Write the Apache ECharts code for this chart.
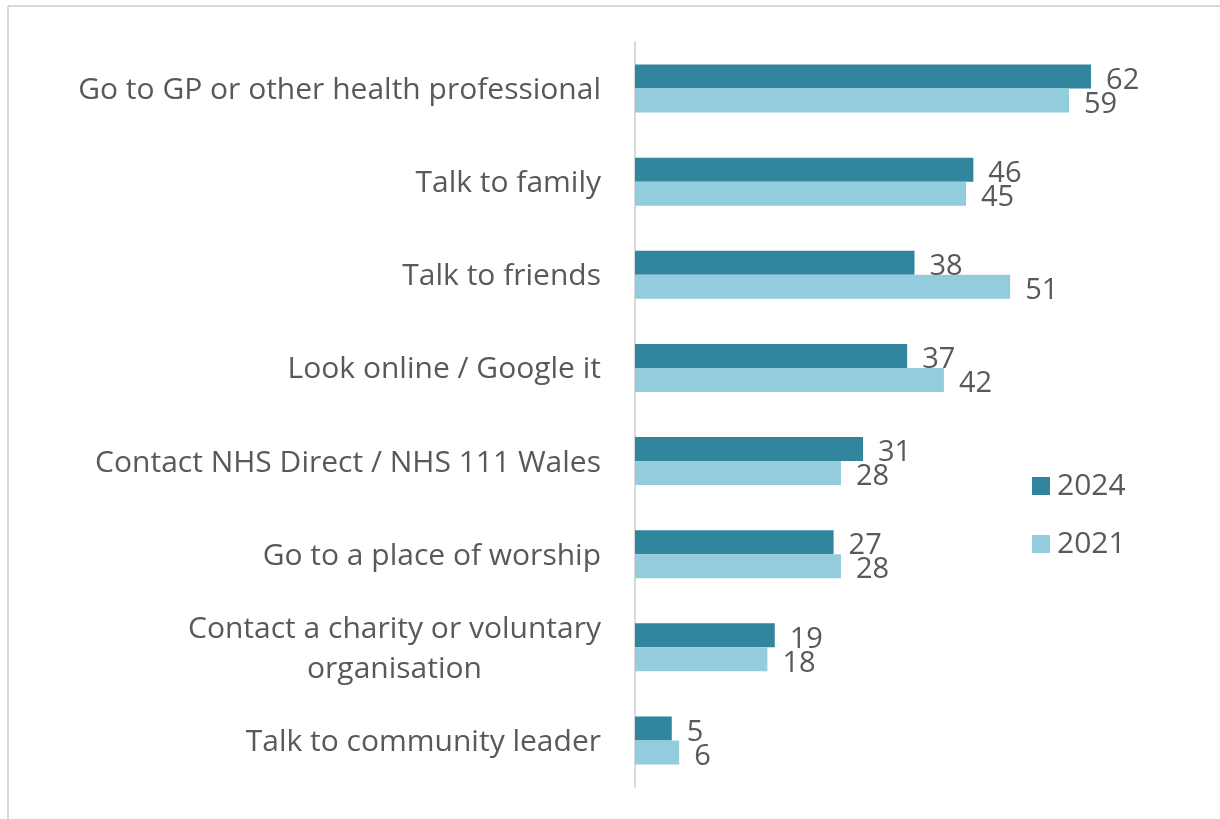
<!DOCTYPE html>
<html>
<head>
<meta charset="utf-8">
<script src="https://cdn.jsdelivr.net/npm/echarts@6/dist/echarts.min.js"></script>
<style>
  html, body { margin: 0; padding: 0; background: #fff; }
  #chart { width: 1220px; height: 819px; }
</style>
</head>
<body>
<div id="chart"></div>
<script>
// Where people would go for help, share of respondents (%)
const categories = [
  'Go to GP or other health professional',
  'Talk to family',
  'Talk to friends',
  'Look online / Google it',
  'Contact NHS Direct / NHS 111 Wales',
  'Go to a place of worship',
  'Contact a charity or voluntary\norganisation',
  'Talk to community leader'
];
const values2024 = [62, 46, 38, 37, 31, 27, 19, 5];
const values2021 = [59, 45, 51, 42, 28, 28, 18, 6];
const seriesNames = ['2024', '2021'];

const colors = ['#31859C', '#93CDDD'];
const textColor = '#595959';
const font = '"Open Sans", "Noto Sans", sans-serif';

const chart = echarts.init(document.getElementById('chart'), null, { renderer: 'canvas' });

function barSeries(name, data, color, labelOffsetY) {
  return {
    name: name,
    type: 'bar',
    data: data,
    barWidth: 24,
    barGap: '0%',
    itemStyle: { color: color },
    label: {
      show: true,
      position: 'right',
      distance: 15,
      offset: [0, labelOffsetY],
      color: textColor,
      fontFamily: font,
      fontSize: 29
    }
  };
}

chart.setOption({
  animation: false,
  backgroundColor: '#fff',
  graphic: [
    { type: 'line', shape: { x1: 8, y1: 6, x2: 1220, y2: 6 }, style: { stroke: '#d9d9d9', lineWidth: 2 } },
    { type: 'line', shape: { x1: 8, y1: 6, x2: 8, y2: 819 }, style: { stroke: '#d9d9d9', lineWidth: 2 } }
  ],
  grid: { left: 635, top: 42, width: 514.9, height: 745, containLabel: false },
  legend: {
    orient: 'vertical',
    left: 1027,
    top: 466,
    itemWidth: 18,
    itemHeight: 18,
    itemGap: 28,
    icon: 'rect',
    textStyle: { color: textColor, fontFamily: font, fontSize: 30, padding: [0, 0, 0, 2] },
    data: seriesNames
  },
  xAxis: {
    type: 'value',
    min: 0,
    max: 70,
    show: false
  },
  yAxis: {
    type: 'category',
    inverse: true,
    data: categories,
    axisLine: { show: true, lineStyle: { color: '#d9d9d9', width: 2 } },
    axisTick: { show: false },
    axisLabel: {
      color: textColor,
      fontFamily: font,
      fontSize: 30,
      margin: 34,
      lineHeight: 40,
      align: 'right',
      padding: [4, 0, 0, 0],
      // multi-line labels keep their lines centred on one another
      formatter: function (value) {
        if (value.indexOf('\n') < 0) return value;
        return value.split('\n').map(function (line) { return '{c|' + line + '}'; }).join('\n');
      },
      rich: {
        c: { align: 'center', color: textColor, fontFamily: font, fontSize: 30, lineHeight: 40 }
      }
    }
  },
  series: [
    barSeries(seriesNames[0], values2024, colors[0], 4),
    barSeries(seriesNames[1], values2021, colors[1], 4)
  ]
});
</script>
</body>
</html>
